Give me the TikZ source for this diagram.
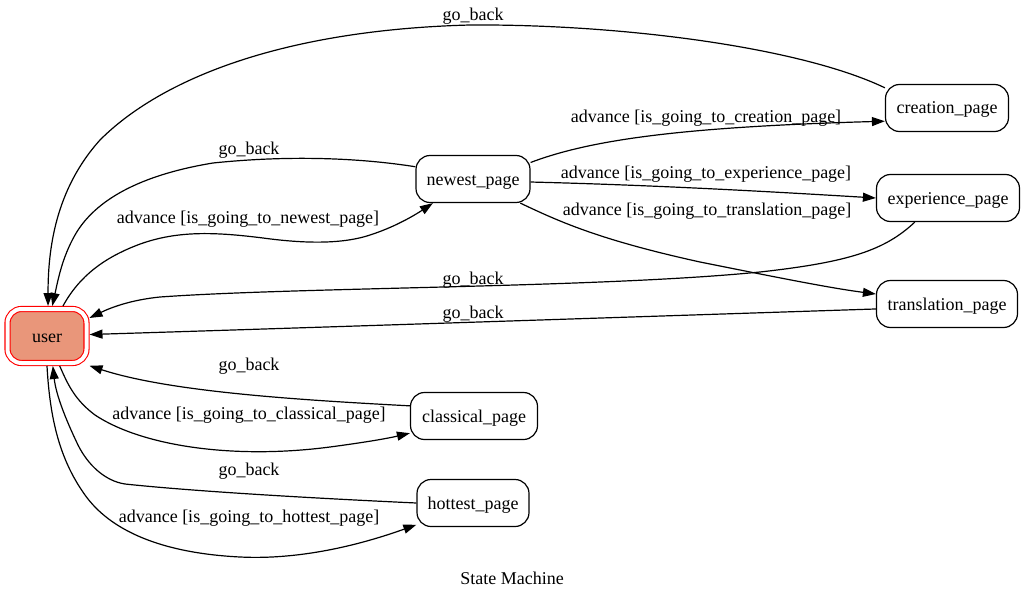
\documentclass[tikz,border=0pt]{standalone}
\usepackage{fontspec}
\setmainfont{Liberation Serif}
\usetikzlibrary{arrows.meta}
\definecolor{usersalmon}{HTML}{E9967A}
\begin{document}
\begin{tikzpicture}[x=1pt,y=-1pt,
  font=\fontsize{18}{21}\selectfont,
  state/.style={draw, line width=1.2pt, rounded corners=14pt, minimum height=47pt, inner sep=0pt, text height=14pt, text depth=2pt},
  edge/.style={line width=1.2pt, -{Triangle[length=13pt,width=9pt]}},
  lbl/.style={inner sep=0pt, text height=14pt, text depth=2pt}]
\useasboundingbox (0,0) rectangle (1025,599);
% nodes
\node[draw=red, double=white, double distance=4pt, line width=1.1pt, fill=usersalmon,
      rounded corners=14pt, minimum width=79pt, minimum height=54pt, inner sep=0pt,
      outer sep=3pt, text height=14pt, text depth=2pt] (user) at (47,336) {user};
\node[state, minimum width=114pt] (newest) at (473,179) {newest\_page};
\node[state, minimum width=123pt] (creation) at (947,108) {creation\_page};
\node[state, minimum width=143pt] (experience) at (948,198) {experience\_page};
\node[state, minimum width=141pt] (translation) at (947,304) {translation\_page};
\node[state, minimum width=127pt] (classical) at (474,416) {classical\_page};
\node[state, minimum width=112pt] (hottest) at (473,503) {hottest\_page};
% edges
\draw[edge] (creation.162) .. controls (800,47) and (620,24) .. (470,25)
  .. controls (280,30) and (160,80) .. (100,140)
  .. controls (55,190) and (48,250) .. (user.88);
\draw[edge] (newest.168) .. controls (360,158) and (290,155) .. (213,163)
  .. controls (140,175) and (95,200) .. (75,235)
  .. controls (62,258) and (58,280) .. (user.80);
\draw[edge] (user.62) .. controls (80,275) and (105,258) .. (135,246)
  .. controls (175,230) and (215,232) .. (263,238)
  .. controls (300,243) and (340,245) .. (370,235)
  .. controls (395,227) and (415,215) .. (newest.211);
\draw[edge] (newest.16) .. controls (590,140) and (680,127) .. (creation.192);
\draw[edge] (newest.357) .. controls (650,185) and (760,191) .. (experience.180);
\draw[edge] (newest.333) .. controls (560,222) and (600,240) .. (700,262)
  .. controls (780,278) and (830,288) .. (translation.172);
\draw[edge] (experience.216) .. controls (885,250) and (850,262) .. (760,272)
  .. controls (600,288) and (300,287) .. (160,297)
  .. controls (130,300) and (110,308) .. (user.23);
\draw[edge] (translation.184) .. controls (600,318) and (300,328) .. (user.2);
\draw[edge] (classical.171) .. controls (300,400) and (170,392) .. (user.325);
\draw[edge] (user.293) .. controls (68,385) and (75,400) .. (95,415)
  .. controls (140,445) and (230,460) .. (330,447)
  .. controls (360,443) and (385,439) .. (classical.195);
\draw[edge] (hottest.west) .. controls (330,499) and (200,492) .. (125,484)
  .. controls (105,481) and (88,465) .. (78,445)
  .. controls (66,420) and (56,395) .. (user.281);
\draw[edge] (user.south) .. controls (50,420) and (60,460) .. (85,495)
  .. controls (110,530) and (160,553) .. (240,557)
  .. controls (300,560) and (360,545) .. (hottest.201);
% labels
\node[lbl] (l1) at (473,15) {go\_back};
\node[lbl] (l2) at (706,117) {advance [is\_going\_to\_creation\_page]};
\node[lbl] (l3) at (249,148) {go\_back};
\node[lbl] (l4) at (706,172) {advance [is\_going\_to\_experience\_page]};
\node[lbl] (l5) at (248,217) {advance [is\_going\_to\_newest\_page]};
\node[lbl] (l6) at (707,209) {advance [is\_going\_to\_translation\_page]};
\node[lbl] (l7) at (473,278) {go\_back};
\node[lbl] (l8) at (473,312) {go\_back};
\node[lbl] (l9) at (249,364) {go\_back};
\node[lbl] (l10) at (249,413) {advance [is\_going\_to\_classical\_page]};
\node[lbl] (l11) at (249,469) {go\_back};
\node[lbl] (l12) at (249,516) {advance [is\_going\_to\_hottest\_page]};
\node[lbl] (title) at (512,578) {State Machine};
\end{tikzpicture}
\end{document}
